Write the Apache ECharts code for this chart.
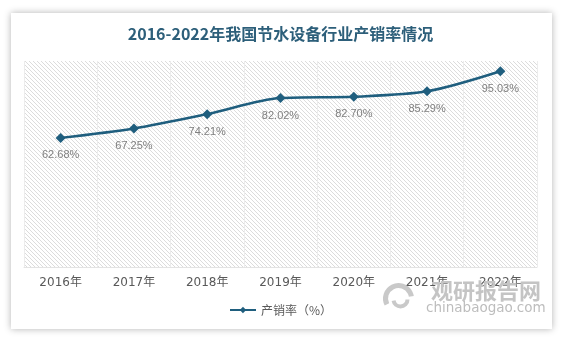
<!DOCTYPE html>
<html>
<head>
<meta charset="utf-8">
<script src="https://cdn.jsdelivr.net/npm/echarts@6/dist/echarts.min.js"></script>
<style>
html,body{margin:0;padding:0;background:#ffffff;}
#chart{width:561px;height:338px;}
</style>
</head>
<body>
<div id="chart"></div>
<script>
var titleText = '2016-2022年我国节水设备行业产销率情况';
var categories = ['2016年','2017年','2018年','2019年','2020年','2021年','2022年'];
var seriesName = '产销率（%）';
var rateValues = [62.68, 67.25, 74.21, 82.02, 82.70, 85.29, 95.03];

// diagonal hatch pattern
var pc = document.createElement('canvas');
pc.width = 4; pc.height = 4;
var pctx = pc.getContext('2d');
pctx.fillStyle = '#ffffff';
pctx.fillRect(0,0,4,4);
pctx.strokeStyle = '#dcdcdc';
pctx.lineWidth = 1;
for (var k = -4; k <= 8; k += 4) {
  pctx.beginPath();
  pctx.moveTo(k, 0);
  pctx.lineTo(k + 4, 4);
  pctx.stroke();
}

var chart = echarts.init(document.getElementById('chart'), null, {renderer:'canvas'});
var option = {
  backgroundColor: '#ffffff',
  animation: false,
  graphic: [
    {type:'rect', z:-10, shape:{x:11,y:13,width:541,height:316},
     style:{fill:'#ffffff', shadowBlur:7, shadowColor:'rgba(0,0,0,0.3)'}},
    {type:'group', left:383, top:283, z:50, children:[
      {type:'arc', shape:{cx:20,cy:14,r:13,startAngle:Math.PI*0.85,endAngle:Math.PI*1.95},
       style:{stroke:'#c9c9c9', lineWidth:5, fill:null}},
      {type:'arc', shape:{cx:22,cy:15,r:7,startAngle:Math.PI*0.0,endAngle:Math.PI*0.95},
       style:{stroke:'#c9c9c9', lineWidth:4, fill:null}}
    ]},
    {type:'text', left:431, top:280, z:50,
     style:{text:'观研报告网', fill:'#c4c4c4', font:'bold 22px "Noto Sans CJK SC"'}},
    {type:'text', left:426, top:301, z:50,
     style:{text:'chinabaogao.com', fill:'#bdbdbd', font:'13.5px "DejaVu Sans"'}}
  ],
  title: {
    text: titleText,
    left: 'center',
    top: 21,
    textStyle: {color:'#2d5f7a', fontSize:16, fontWeight:'bold', fontFamily:'"Noto Sans CJK SC", sans-serif'}
  },
  legend: {
    data: [seriesName],
    bottom: 17,
    left: 'center',
    itemWidth: 26,
    itemHeight: 8,
    textStyle: {color:'#595959', fontSize:12, fontFamily:'"Noto Sans CJK SC", sans-serif'}
  },
  grid: {
    left: 24, right: 24, top: 61, bottom: 71,
    show: true,
    borderWidth: 0,
    backgroundColor: {image: pc, repeat: 'repeat'}
  },
  xAxis: {
    type: 'category',
    data: categories,
    boundaryGap: true,
    axisLine: {show:true, lineStyle:{color:'#e3e3e3'}},
    axisTick: {show:false},
    splitLine: {show:true, lineStyle:{color:'#ececec', width:1}},
    axisLabel: {color:'#595959', fontSize:12, margin:10, fontFamily:'"DejaVu Sans", "Noto Sans CJK SC", sans-serif'}
  },
  yAxis: {
    type: 'value',
    min: 0, max: 100,
    show: false,
    splitLine: {show:false}
  },
  series: [{
    name: seriesName,
    type: 'line',
    data: rateValues,
    smooth: 0.3,
    symbol: 'diamond',
    symbolSize: 10,
    itemStyle: {color:'#1f5e7e'},
    lineStyle: {color:'#1f5e7e', width:2.5},
    label: {
      show: true,
      position: 'bottom',
      distance: 7,
      color: '#808080',
      fontSize: 11,
      fontFamily: '"Liberation Sans", sans-serif',
      formatter: function(p){ return p.value.toFixed(2) + '%'; }
    }
  }]
};
chart.setOption(option);
</script>
</body>
</html>
